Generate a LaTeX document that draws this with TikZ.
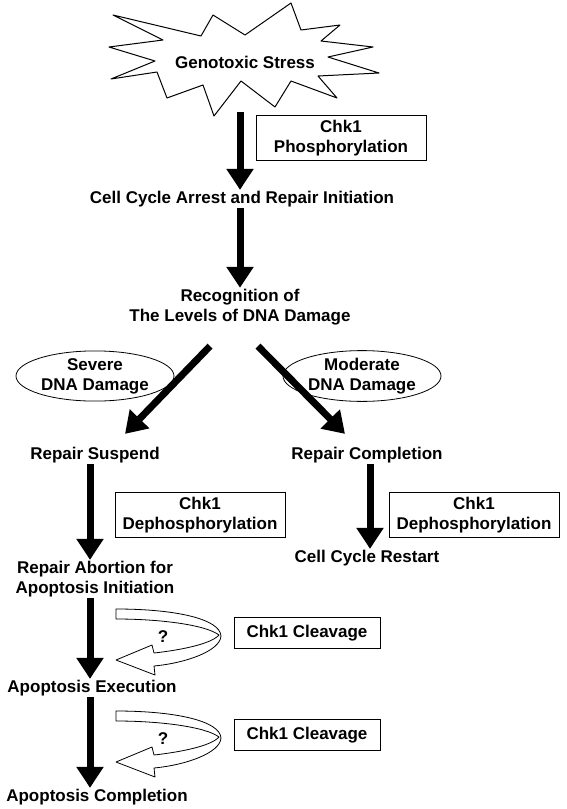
\documentclass[tikz,border=0pt]{standalone}
\usepackage{fontspec}
\setmainfont{Liberation Sans}
\usetikzlibrary{arrows.meta,positioning,shapes.geometric,calc}

\tikzset{
  lbl/.style={font=\bfseries\fontsize{17}{20}\selectfont, align=center, inner sep=1pt},
  chkbox/.style={draw, line width=1pt, lbl, minimum width=170pt, minimum height=45pt},
  cleavebox/.style={draw, line width=1pt, lbl, minimum width=146pt, minimum height=31pt},
  damage/.style={draw, ellipse, line width=0.8pt, lbl, minimum width=158pt, minimum height=36pt, inner sep=0pt},
  bigarrow/.style={line width=7pt, -{Triangle[width=26pt,length=21pt]}},
  ribbon/.style={draw, fill=white, line width=0.8pt, line join=round},
}

\begin{document}
\begin{tikzpicture}[x=1pt, y=-1pt]
  \useasboundingbox (0,0) rectangle (567,809);

  % burst round the stress label
  \draw[line width=1pt, line join=round, fill=white]
    (291,3) -- (301,30) -- (340,25) -- (321,41) -- (373,47) -- (328,57)
    -- (379,73) -- (318,76) -- (337,98) -- (291,81) -- (275,107)
    -- (241,81) -- (214,116) -- (203,85) -- (167,98) -- (157,72)
    -- (111,79) -- (155,61) -- (109,47) -- (163,40) -- (113,15)
    -- (201,36) -- (213,15) -- (245,35) -- cycle;
  \node[lbl] (stress) at (245,62) {Genotoxic Stress};
  \coordinate (starbase) at (240,112);

  % main column
  \node[lbl] (arrest) at (242,199) {Cell Cycle Arrest and Repair Initiation};
  \node[lbl] (recog) at (240,307) {Recognition of\\The Levels of DNA Damage};
  \node[chkbox] (phos) at (341,138) {Chk1\\Phosphorylation};

  \draw[bigarrow] (starbase) -- (starbase |- arrest.north);
  \draw[bigarrow] (arrest.south -| starbase) -- (recog.north -| starbase);

  % branch on the damage level
  \node[damage] (severe) at (95,376) {Severe\\DNA Damage};
  \node[damage] (moderate) at (362,376) {Moderate\\DNA Damage};
  \node[lbl] (suspend) at (95,455) {Repair Suspend};
  \node[lbl] (complete) at (367,455) {Repair Completion};

  \draw[bigarrow] ($(recog.south)+(-30,20)$) -- ($(suspend.north)+(30,-12)$);
  \draw[bigarrow] ($(recog.south)+(18,20)$) -- ($(complete.north)+(-22,-12)$);

  % left column
  \node[chkbox] (dephosL) at (200,515) {Chk1\\Dephosphorylation};
  \node[lbl] (abort) at (95,579) {Repair Abortion for\\Apoptosis Initiation};
  \node[lbl] (execute) at (92,688) {Apoptosis Execution};
  \node[lbl] (finish) at (97,797) {Apoptosis Completion};
  \node[cleavebox] (cleaveA) at (307,633) {Chk1 Cleavage};
  \node[cleavebox] (cleaveB) at (307,735) {Chk1 Cleavage};

  \draw[bigarrow] (suspend.south -| 90,0) -- (abort.north -| 90,0);
  \draw[bigarrow] (abort.south -| 90,0) -- (execute.north -| 90,0);
  \draw[bigarrow] (execute.south -| 90,0) -- (finish.north -| 90,0);

  % right column
  \node[chkbox] (dephosR) at (474,515) {Chk1\\Dephosphorylation};
  \node[lbl] (restart) at (367,558) {Cell Cycle Restart};
  \draw[bigarrow] (complete.south -| 370,0) -- (restart.north -| 370,0);

  % twisted feedback ribbons
  \foreach \ypos/\name in {609/qA, 711/qB} {
    \begin{scope}[shift={(116,\ypos)}]
      \draw[ribbon] (0,0) .. controls (60,0) and (104,10) .. (105,27)
        .. controls (104,42) and (70,54) .. (38,57)
        -- (39,66) -- (0,51) -- (36,36) -- (38,44)
        .. controls (65,41) and (95,35) .. (103,26)
        .. controls (90,16) and (45,10) .. (0,10) -- cycle;
      \node[lbl] (\name) at (47,28) {?};
    \end{scope}
  }
\end{tikzpicture}
\end{document}
